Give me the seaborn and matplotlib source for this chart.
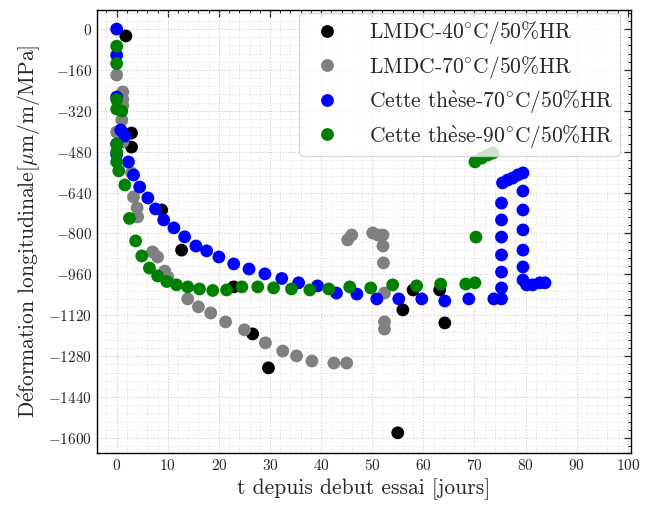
import numpy as np
import pandas as pd
import matplotlib
matplotlib.use("Agg")
import matplotlib.pyplot as plt
import seaborn as sns
from matplotlib.ticker import MultipleLocator

# ---- data ----
lmdc40_t = [1.8, 2.9, 2.9, 8.8, 12.7, 22.9, 26.6, 29.7, 55.0, 56.0, 58.0, 63.2, 64.2]
lmdc40_e = [-27, -407, -462, -708, -865, -1009, -1193, -1326, -1580, -1099, -1021, -1021, -1150]

lmdc70_t = [0.0, 1.2, 1.2, 1.2, 1.0, 0.0, 1.2, 2.9, 3.3, 4.0, 4.1, 7.0, 8.0, 9.4, 10.0,
            13.9, 16.0, 18.4, 21.3, 25.0, 29.1, 32.5, 35.2, 38.2, 42.5, 45.0,
            45.2, 46.0, 50.1, 51.1, 52.1, 52.1, 52.2, 52.4, 52.4, 52.4]
lmdc70_e = [-180, -246, -275, -300, -356, -403, -442, -563, -657, -700, -735, -872, -892, -947, -970,
            -1056, -1087, -1111, -1146, -1177, -1228, -1260, -1279, -1299, -1307, -1307,
            -825, -806, -798, -806, -806, -849, -915, -1033, -1146, -1174]

these70_t = [0.0, 0.0, 0.0, 0.8, 1.6, 0.0, 0.0, 2.3, 3.3, 4.5, 6.1, 7.6, 9.2, 11.2, 13.3, 15.5,
             17.6, 20.0, 22.9, 25.9, 29.0, 32.3, 35.6, 39.3, 43.0, 47.0, 50.9, 55.2, 59.7,
             64.2, 68.9, 73.8, 75.3, 75.3, 75.3, 75.3, 75.3, 75.3, 75.3, 75.5, 76.5, 77.5,
             78.5, 79.5, 79.5, 79.5, 79.5, 79.5, 79.5, 79.5, 80.2, 81.4, 82.8, 83.8]
these70_e = [0, -102, -266, -395, -419, -450, -490, -520, -571, -618, -661, -704, -747, -778, -813, -849,
             -868, -892, -919, -939, -958, -976, -993, -1005, -1033, -1037, -1056, -1056, -1056,
             -1064, -1056, -1056, -1056, -1013, -951, -884, -814, -747, -681, -602, -591, -583,
             -571, -563, -634, -708, -786, -865, -931, -982, -1001, -1001, -993, -993]

these90_t = [0.0, 0.0, 0.0, 0.0, 1.0, 0.0, 0.0, 0.0, 0.4, 1.6, 2.5, 3.7, 4.9, 6.4, 8.0, 9.8,
             11.7, 13.9, 16.2, 18.8, 21.5, 24.5, 27.6, 30.7, 34.2, 37.8, 41.5, 45.6, 49.7,
             54.0, 58.7, 63.4, 68.3, 70.1, 70.3, 70.1, 71.4, 72.6, 73.6]
these90_e = [-67, -135, -276, -313, -321, -450, -481, -520, -555, -610, -741, -829, -888, -935, -966, -988,
             -1001, -1009, -1017, -1023, -1021, -1009, -1009, -1013, -1017, -1021, -1017, -1009, -1013,
             -1001, -1005, -998, -998, -993, -814, -520, -505, -493, -485]

labels = [r"LMDC-40$^{\circ}$C/50%HR", r"LMDC-70$^{\circ}$C/50%HR",
          r"Cette th$\grave{\mathrm{e}}$se-70$^{\circ}$C/50%HR",
          r"Cette th$\grave{\mathrm{e}}$se-90$^{\circ}$C/50%HR"]
colors = ["black", "gray", "blue", "green"]

frames = []
for lab, t, e in zip(labels, [lmdc40_t, lmdc70_t, these70_t, these90_t],
                     [lmdc40_e, lmdc70_e, these70_e, these90_e]):
    frames.append(pd.DataFrame({"t": t, "e": e, "serie": lab}))
df = pd.concat(frames, ignore_index=True)

# ---- style ----
sns.set_style("white")
plt.rcParams["font.family"] = ["cmr10", "DejaVu Serif"]
plt.rcParams["mathtext.fontset"] = "cm"
plt.rcParams["axes.formatter.use_mathtext"] = True
plt.rcParams["axes.unicode_minus"] = True

fig = plt.figure(figsize=(6.45, 5.07), dpi=100)
ax = fig.add_axes([0.150, 0.1065, 0.828, 0.8735])

sns.scatterplot(data=df, x="t", y="e", hue="serie", palette=dict(zip(labels, colors)),
                hue_order=labels, s=85, linewidth=0, ax=ax, zorder=3)

ax.set_xlim(-3.9, 100.6)
ax.set_ylim(-1659, 74)
ax.xaxis.set_major_locator(MultipleLocator(10))
ax.xaxis.set_minor_locator(MultipleLocator(2))
ax.yaxis.set_major_locator(MultipleLocator(160))
ax.yaxis.set_minor_locator(MultipleLocator(32))
ax.tick_params(which="both", direction="in", top=True, right=True, labelsize=11)
ax.tick_params(which="major", length=5, width=0.9)
ax.tick_params(which="minor", length=2.5, width=0.7)
ax.grid(which="major", linestyle=":", color="#cccccc", linewidth=0.8)
ax.grid(which="minor", linestyle=":", color="#dddddd", linewidth=0.6)
for sp in ax.spines.values():
    sp.set_color("black")
    sp.set_linewidth(1.0)

ax.set_xlabel("t depuis debut essai [jours]", fontsize=15.5)
ax.set_ylabel(r"D$\acute{\mathrm{e}}$formation longitudinale[$\mu$m/m/MPa]", fontsize=15.5)

leg = ax.legend(loc="upper right", bbox_to_anchor=(0.979, 0.993), fontsize=15.5,
                frameon=True, handletextpad=0.95, borderpad=0.28, labelspacing=0.35,
                markerscale=1.0, borderaxespad=0.0)
leg.get_frame().set_alpha(0.8)

fig.savefig("out.png", dpi=100)
